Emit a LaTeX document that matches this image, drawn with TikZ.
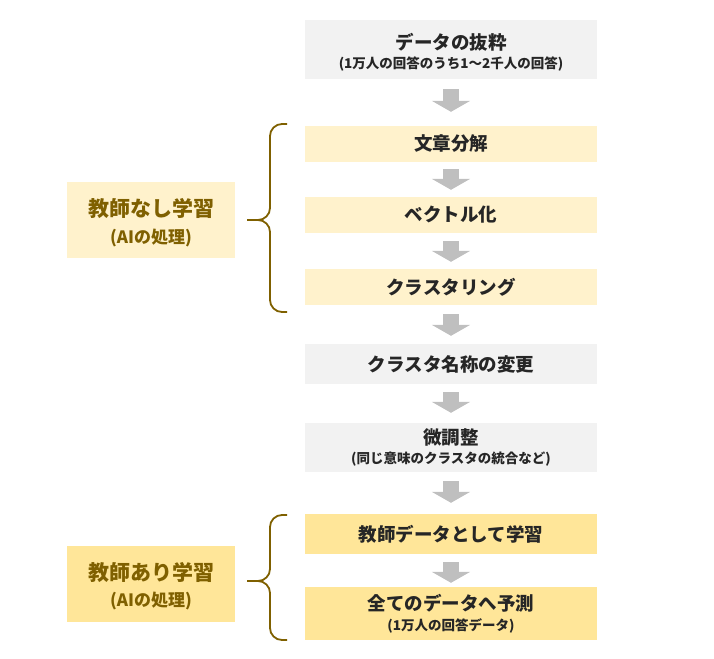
\documentclass[tikz,border=0pt]{standalone}
\usepackage{fontspec}
\setmainfont{Noto Sans CJK JP}
\usetikzlibrary{arrows.meta}
\definecolor{boxgray}{HTML}{F2F2F2}
\definecolor{paleyellow}{HTML}{FFF2CC}
\definecolor{goldyellow}{HTML}{FFE699}
\definecolor{arrowgray}{HTML}{BFBFBF}
\definecolor{darkgold}{HTML}{7F6000}
\definecolor{textgray}{HTML}{262626}
\newcommand{\mainfs}{\fontsize{18.5}{20}\selectfont\bfseries}
\newcommand{\subfs}{\fontsize{13.5}{20}\selectfont\bfseries}
\newcommand{\sidefs}{\fontsize{21}{24}\selectfont\bfseries}
\newcommand{\sidesubfs}{\fontsize{17}{24}\selectfont\bfseries}
\begin{document}
\begin{tikzpicture}[x=1pt, y=-1pt,
    flowbox/.style={rectangle, inner sep=0pt, minimum width=292pt, text=textgray, align=center},
    sidebox/.style={rectangle, inner sep=0pt, minimum width=168pt, minimum height=76pt},
    sidetext/.style={text=darkgold, align=center, yshift=-2.5pt},
    blockarrow/.style={arrowgray, line width=16pt, -{Triangle[width=38pt, length=11pt]}},
    braceline/.style={darkgold, line width=1.8pt, rounded corners=12pt}]
    \useasboundingbox (0,0) rectangle (714,658);

    % Flow
    \node (extract) at (451,49.5) [flowbox, fill=boxgray, minimum height=59pt,
        label={[text=textgray, align=center, yshift=-2.5pt]center:{\mainfs データの抜粋}\\[5pt]{\subfs (1万人の回答のうち1～2千人の回答)}}] {};
    \node (split) at (451,144) [flowbox, fill=paleyellow, minimum height=36pt] {\mainfs 文章分解};
    \node (vector) at (451,215) [flowbox, fill=paleyellow, minimum height=36pt] {\mainfs ベクトル化};
    \node (cluster) at (451,287) [flowbox, fill=paleyellow, minimum height=36pt] {\mainfs クラスタリング};
    \node (rename) at (451,364) [flowbox, fill=boxgray, minimum height=40pt] {\mainfs クラスタ名称の変更};
    \node (tune) at (451,447.5) [flowbox, fill=boxgray, minimum height=49pt] {{\mainfs 微調整}\\[5pt]{\subfs (同じ意味のクラスタの統合など)}};
    \node (teach) at (451,534) [flowbox, fill=goldyellow, minimum height=40pt] {\mainfs 教師データとして学習};
    \node (predict) at (451,613.5) [flowbox, fill=goldyellow, minimum height=53pt] {{\mainfs 全てのデータへ予測}\\[5pt]{\subfs (1万人の回答データ)}};

    \foreach \a/\b/\p/\q in {extract/split/10/14, split/vector/7/7, vector/cluster/8/7, cluster/rename/9/8,
                             rename/tune/8/10, tune/teach/9/11, teach/predict/8/4}
        \draw[blockarrow, shorten <=\p pt, shorten >=\q pt] (\a) -- (\b);

    % Unsupervised
    \node (unsup) at (151,220) [sidebox, fill=paleyellow,
        label={[sidetext]center:{\sidefs 教師なし学習}\\[9pt]{\sidesubfs (AIの処理)}}] {};
    \draw[braceline] (287,124) -| (270,220) -- (247,220);
    \draw[braceline] (287,312) -| (270,220) -- (247,220);

    % Supervised
    \node (sup) at (151,583.5) [sidebox, fill=goldyellow,
        label={[sidetext]center:{\sidefs 教師あり学習}\\[9pt]{\sidesubfs (AIの処理)}}] {};
    \draw[braceline] (287,515) -| (270,581) -- (247,581);
    \draw[braceline] (287,640) -| (270,581) -- (247,581);
\end{tikzpicture}
\end{document}
